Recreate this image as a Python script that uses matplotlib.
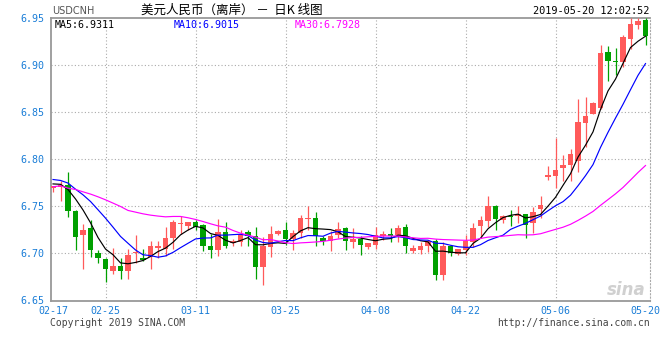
import numpy as np
import pandas as pd
import matplotlib
matplotlib.use('Agg')
import matplotlib.pyplot as plt

# ------------------------------------------------------------------ dati
# giorni di quotazione CNH (settimana dom-ven, come nel grafico sina)
dates = pd.bdate_range('2019-02-17', '2019-05-20', freq='C',
                       weekmask='Sun Mon Tue Wed Thu Fri')
labels = [d.strftime('%m-%d') for d in dates]

opens = [6.7692, 6.7706, 6.7727, 6.7454, 6.7192, 6.7273, 6.7007, 6.6943, 6.6809, 6.6869,
         6.6819, 6.7004, 6.6957, 6.6968, 6.7061, 6.7046, 6.7160, 6.7319, 6.7295, 6.7337,
         6.7305, 6.7082, 6.7032, 6.7231, 6.7110, 6.7124, 6.7231, 6.7188, 6.6855, 6.7064,
         6.7209, 6.7252, 6.7153, 6.7216, 6.7373, 6.7380, 6.7170, 6.7135, 6.7192, 6.7273,
         6.7117, 6.7156, 6.7064, 6.7092, 6.7188, 6.7209, 6.7195, 6.7277, 6.7029, 6.7039,
         6.7075, 6.7135, 6.6773, 6.7075, 6.6990, 6.7039, 6.7117, 6.7288, 6.7341, 6.7507,
         6.7351, 6.7397, 6.7394, 6.7418, 6.7323, 6.7472, 6.7816, 6.7826, 6.7908, 6.7937,
         6.7979, 6.8387, 6.8486, 6.8546, 6.9145, 6.9046, 6.9032, 6.9284, 6.9426, 6.9486]
highs = [6.7720, 6.7766, 6.7862, 6.7460, 6.7316, 6.7358, 6.7032, 6.6947, 6.7061, 6.6957,
         6.7050, 6.7199, 6.7053, 6.7135, 6.7138, 6.7287, 6.7358, 6.7394, 6.7340, 6.7358,
         6.7316, 6.7209, 6.7369, 6.7337, 6.7153, 6.7252, 6.7252, 6.7280, 6.7174, 6.7295,
         6.7252, 6.7330, 6.7252, 6.7412, 6.7500, 6.7437, 6.7181, 6.7234, 6.7330, 6.7287,
         6.7266, 6.7188, 6.7110, 6.7280, 6.7241, 6.7273, 6.7305, 6.7316, 6.7093, 6.7118,
         6.7146, 6.7157, 6.7118, 6.7093, 6.7050, 6.7199, 6.7323, 6.7401, 6.7614, 6.7518,
         6.7412, 6.7465, 6.7500, 6.7422, 6.7490, 6.7607, 6.7926, 6.8227, 6.8043, 6.8114,
         6.8646, 6.8660, 6.8610, 6.9213, 6.9209, 6.9184, 6.9319, 6.9504, 6.9504, 6.9504]
lows = [6.7649, 6.7560, 6.7383, 6.7032, 6.6837, 6.6968, 6.6897, 6.6702, 6.6777, 6.6727,
        6.6727, 6.6897, 6.6918, 6.6833, 6.6951, 6.6975, 6.7046, 6.7209, 6.7252, 6.7245,
        6.7022, 6.6957, 6.6975, 6.7057, 6.7075, 6.7075, 6.7075, 6.6734, 6.6670, 6.6968,
        6.7199, 6.7092, 6.7032, 6.7163, 6.7252, 6.7075, 6.7092, 6.7022, 6.7163, 6.7032,
        6.7057, 6.6989, 6.7046, 6.7050, 6.7146, 6.7117, 6.7117, 6.7004, 6.7004, 6.6997,
        6.7011, 6.6720, 6.6720, 6.6975, 6.6979, 6.6979, 6.7068, 6.7163, 6.7280, 6.7252,
        6.7323, 6.7288, 6.7323, 6.7170, 6.7217, 6.7376, 6.7777, 6.7695, 6.7766, 6.7766,
        6.7872, 6.8138, 6.8486, 6.8536, 6.8837, 6.8894, 6.8979, 6.9174, 6.9387, 6.9213]
closes = [6.7713, 6.7731, 6.7447, 6.7171, 6.7252, 6.7032, 6.6947, 6.6833, 6.6869, 6.6819,
          6.6986, 6.7018, 6.6936, 6.7082, 6.7082, 6.7167, 6.7330, 6.7330, 6.7337, 6.7280,
          6.7082, 6.7032, 6.7231, 6.7082, 6.7135, 6.7209, 6.7188, 6.6855, 6.7075, 6.7209,
          6.7241, 6.7156, 6.7216, 6.7380, 6.7380, 6.7188, 6.7135, 6.7188, 6.7262, 6.7128,
          6.7153, 6.7092, 6.7110, 6.7195, 6.7209, 6.7188, 6.7273, 6.7075, 6.7061, 6.7082,
          6.7128, 6.6773, 6.7082, 6.7004, 6.7050, 6.7128, 6.7270, 6.7359, 6.7507, 6.7372,
          6.7401, 6.7390, 6.7422, 6.7305, 6.7440, 6.7518, 6.7834, 6.7890, 6.7943, 6.8057,
          6.8404, 6.8465, 6.8599, 6.9135, 6.9043, 6.9032, 6.9301, 6.9443, 6.9470, 6.9310]

# valori delle medie nei primi giorni (dipendono da quotazioni fuori grafico)
ma5_head = [6.7740, 6.7736, 6.7680, 6.7580]
ma10_head = [6.7787, 6.7777, 6.7749, 6.7684, 6.7624, 6.7553, 6.7465, 6.7376, 6.7280]
ma30_head = [6.7710, 6.7720, 6.7695, 6.7681, 6.7656, 6.7632, 6.7603, 6.7571, 6.7536,
             6.7500, 6.7458, 6.7440, 6.7422, 6.7408, 6.7398, 6.7390, 6.7394, 6.7394,
             6.7380, 6.7362, 6.7340, 6.7316, 6.7294, 6.7280, 6.7245, 6.7216, 6.7195,
             6.7174, 6.7146]

# legenda come stampata sul grafico
ma_names = ['MA5', 'MA10', 'MA30']
ma_last = [6.9311, 6.9015, 6.7928]

tick_labels = ['02-17', '02-25', '03-11', '03-25', '04-08', '04-22', '05-06', '05-20']
yticks = [6.65, 6.70, 6.75, 6.80, 6.85, 6.90, 6.95]


def media(head, n):
    c = pd.Series(closes).rolling(n).mean().to_numpy()
    c[:len(head)] = head
    return c


ma5 = media(ma5_head, 5)
ma10 = media(ma10_head, 10)
ma30 = media(ma30_head, 30)

# ------------------------------------------------------------------ stile
UP, DOWN = '#ff5a5a', '#00a000'
BLUE_TXT = '#1a7dd7'
GRID = '#aaaaaa'
MONO = 'DejaVu Sans Mono'
MA_COL = ['black', '#0000ff', '#ff00ff']
W, H = 660, 360

fig = plt.figure(figsize=(W / 100, H / 100), dpi=100)
fig.patch.set_facecolor('white')
ax = fig.add_axes([51 / W, 1 - 300.5 / H, (650 - 51) / W, (300.5 - 18) / H])

x = np.arange(len(closes))
o, h, l, c = map(np.array, (opens, highs, lows, closes))
up = c >= o
cols = np.where(up, UP, DOWN)

ax.vlines(x, l, h, colors=cols, lw=0.9, zorder=3)
body = np.maximum(np.abs(c - o), 0.0012)
ax.bar(x, body, bottom=np.minimum(o, c) - np.where(np.abs(c - o) < 0.0012, 0.0006, 0),
       width=0.75, color=cols, lw=0, zorder=4)

for ma, col in zip((ma5, ma10, ma30), MA_COL):
    ax.plot(x, ma, color=col, lw=0.85, zorder=5)

ax.set_xlim(-0.27, 79.6)
ax.set_ylim(6.65, 6.9505)

tpos = [labels.index(t) for t in tick_labels]
ax.set_xticks(tpos)
ax.set_xticklabels(tick_labels)
ax.set_yticks(yticks)
ax.set_yticklabels([f'{v:.2f}' for v in yticks])
ax.tick_params(axis='both', length=0, colors=BLUE_TXT, labelsize=7.2)
ax.tick_params(axis='x', pad=4)
ax.tick_params(axis='y', pad=5)
for lab in ax.get_xticklabels() + ax.get_yticklabels():
    lab.set_family(MONO)

for v in yticks[1:-1]:
    ax.axhline(v, color=GRID, lw=0.8, ls=(0, (1, 2)), zorder=1)
for p in tpos[1:-1]:
    ax.axvline(p, color=GRID, lw=0.8, ls=(0, (1, 2)), zorder=1)

for s in ('left', 'top', 'bottom'):
    ax.spines[s].set_color('#999999')
    ax.spines[s].set_linewidth(1.3)
ax.spines['right'].set_color(GRID)
ax.spines['right'].set_linestyle((0, (1, 2)))
ax.spines['right'].set_linewidth(0.8)


def px(xp, yp):
    return xp / W, 1 - yp / H


for nome, val, col, xl in zip(ma_names, ma_last, MA_COL, (55, 174, 295)):
    fig.text(*px(xl, 24.5), f'{nome}:{val:.4f}', family=MONO, fontsize=7.2,
             color=col, va='center')

fig.text(*px(52, 11), 'USDCNH', fontsize=7, color='#555555', va='center')
fig.text(*px(232, 10), '美元人民币（离岸） －  日K 线图', fontsize=9,
         family=['Noto Sans CJK SC', 'DejaVu Sans'], ha='center', va='center')
fig.text(*px(649, 11.5), '2019-05-20 12:02:52', family=MONO, fontsize=7.4,
         ha='right', va='center')
fig.text(*px(50, 323), 'Copyright 2019 SINA.COM', family=MONO, fontsize=7,
         color='#444444', va='center')
fig.text(*px(650, 323), 'http://finance.sina.com.cn', family=MONO, fontsize=7,
         color='#444444', ha='right', va='center')
fig.text(*px(626, 290), 'sina', fontsize=12, fontweight='bold', style='italic',
         color='#d0d0d0', ha='center', va='center')

fig.savefig('out.png', dpi=100, facecolor='white')
